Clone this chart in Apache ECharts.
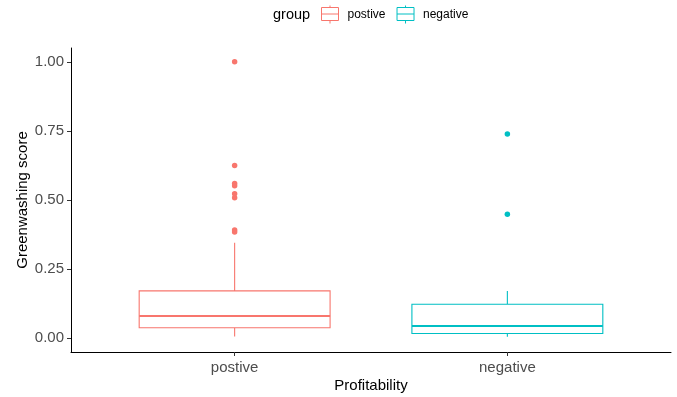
<!DOCTYPE html>
<html>
<head>
<meta charset="utf-8">
<script src="https://cdn.jsdelivr.net/npm/echarts@6/dist/echarts.min.js"></script>
<style>
  html, body { margin: 0; padding: 0; background: #fff; }
  #chart { width: 677px; height: 397px; }
</style>
</head>
<body>
<div id="chart"></div>
<script>
// Groups shown along the x axis
const categories = ['postive', 'negative'];
// Box statistics per group: [lower whisker, Q1, median, Q3, upper whisker]
const postiveStats = [0.006, 0.038, 0.080, 0.171, 0.345];
const negativeStats = [0.005, 0.017, 0.044, 0.123, 0.171];
// Points beyond the whiskers
const postiveOutliers = [1.0, 0.625, 0.56, 0.552, 0.523, 0.508, 0.391, 0.384];
const negativeOutliers = [0.739, 0.448];
// Y axis tick values
const yTicks = [0, 0.25, 0.5, 0.75, 1.0];

const colors = ['#F8766D', '#00BFC4'];
const statsList = [postiveStats, negativeStats];
const outlierList = [postiveOutliers, negativeOutliers];
const HALF_W = 0.35;
const FONT = '"Liberation Sans", Arial, sans-serif';

const legendIcon = 'path://M0,2L17,2L17,15L0,15ZM0,8.5L17,8.5M8.5,0L8.5,2M8.5,15L8.5,18';

function boxRenderer(color) {
  return function (params, api) {
    const x = api.value(0);
    const lo = api.value(1), q1 = api.value(2), med = api.value(3), q3 = api.value(4), hi = api.value(5);
    const pLo = api.coord([x, lo]);
    const pHi = api.coord([x, hi]);
    const pQ1L = api.coord([x - HALF_W, q1]);
    const pQ3R = api.coord([x + HALF_W, q3]);
    const pQ1 = api.coord([x, q1]);
    const pQ3 = api.coord([x, q3]);
    const pMedL = api.coord([x - HALF_W, med]);
    const pMedR = api.coord([x + HALF_W, med]);
    return {
      type: 'group',
      children: [
        { type: 'line', shape: { x1: pHi[0], y1: pHi[1], x2: pQ3[0], y2: pQ3[1] },
          style: { stroke: color, lineWidth: 1.1 } },
        { type: 'line', shape: { x1: pQ1[0], y1: pQ1[1], x2: pLo[0], y2: pLo[1] },
          style: { stroke: color, lineWidth: 1.1 } },
        { type: 'rect', shape: { x: pQ1L[0], y: pQ3R[1], width: pQ3R[0] - pQ1L[0], height: pQ1L[1] - pQ3R[1] },
          style: { fill: '#fff', stroke: color, lineWidth: 1.1 } },
        { type: 'line', shape: { x1: pMedL[0], y1: pMedL[1], x2: pMedR[0], y2: pMedR[1] },
          style: { stroke: color, lineWidth: 2 } }
      ]
    };
  };
}

const series = [];
categories.forEach(function (name, i) {
  series.push({
    name: name,
    type: 'custom',
    renderItem: boxRenderer(colors[i]),
    encode: { x: 0, y: [1, 2, 3, 4, 5] },
    data: [[i + 1].concat(statsList[i])],
    itemStyle: { color: colors[i] },
    z: 2
  });
  series.push({
    name: name,
    type: 'scatter',
    symbolSize: 5.5,
    itemStyle: { color: colors[i], opacity: 1 },
    data: outlierList[i].map(function (v) { return [i + 1, v]; }),
    z: 3
  });
});

const chart = echarts.init(document.getElementById('chart'), null, { renderer: 'canvas' });
chart.setOption({
  animation: false,
  backgroundColor: '#fff',
  grid: { left: 71, right: 6, top: 48, bottom: 45, containLabel: false, outerBoundsMode: 'none' },
  graphic: [{
    type: 'text', left: 273, top: 7,
    style: { text: 'group', font: '14.5px ' + FONT, fill: '#000' }
  }],
  legend: {
    left: 321, top: 5, padding: 0,
    itemWidth: 17, itemHeight: 18, itemGap: 11,
    selectedMode: false,
    textStyle: { fontFamily: FONT, fontSize: 12, color: '#000', padding: [0, 0, 0, 4] },
    data: categories.map(function (name, i) {
      return { name: name, icon: legendIcon,
        itemStyle: { color: 'transparent', borderColor: colors[i], borderWidth: 1 } };
    })
  },
  xAxis: {
    type: 'value', min: 0.4, max: 2.6,
    name: 'Profitability', nameLocation: 'middle', nameGap: 26, nameMoveOverlap: false,
    nameTextStyle: { fontFamily: FONT, fontSize: 15, color: '#000' },
    splitLine: { show: false },
    axisLine: { onZero: false, lineStyle: { color: '#000', width: 1 } },
    axisTick: { customValues: [1, 2], length: 4, lineStyle: { color: '#333' } },
    axisLabel: {
      customValues: [1, 2],
      formatter: function (v) { return categories[Math.round(v) - 1]; },
      fontFamily: FONT, fontSize: 15, color: '#4d4d4d', margin: 8
    }
  },
  yAxis: {
    type: 'value', min: -0.05, max: 1.05,
    name: 'Greenwashing score', nameLocation: 'middle', nameGap: 41, nameMoveOverlap: false,
    nameTextStyle: { fontFamily: FONT, fontSize: 15, color: '#000' },
    splitLine: { show: false },
    axisLine: { show: true, onZero: false, lineStyle: { color: '#000', width: 1 } },
    axisTick: { show: true, customValues: yTicks, length: 4, lineStyle: { color: '#333' } },
    axisLabel: {
      customValues: yTicks,
      formatter: function (v) { return v.toFixed(2); },
      fontFamily: FONT, fontSize: 15, color: '#4d4d4d', margin: 7
    }
  },
  series: series
});
</script>
</body>
</html>
